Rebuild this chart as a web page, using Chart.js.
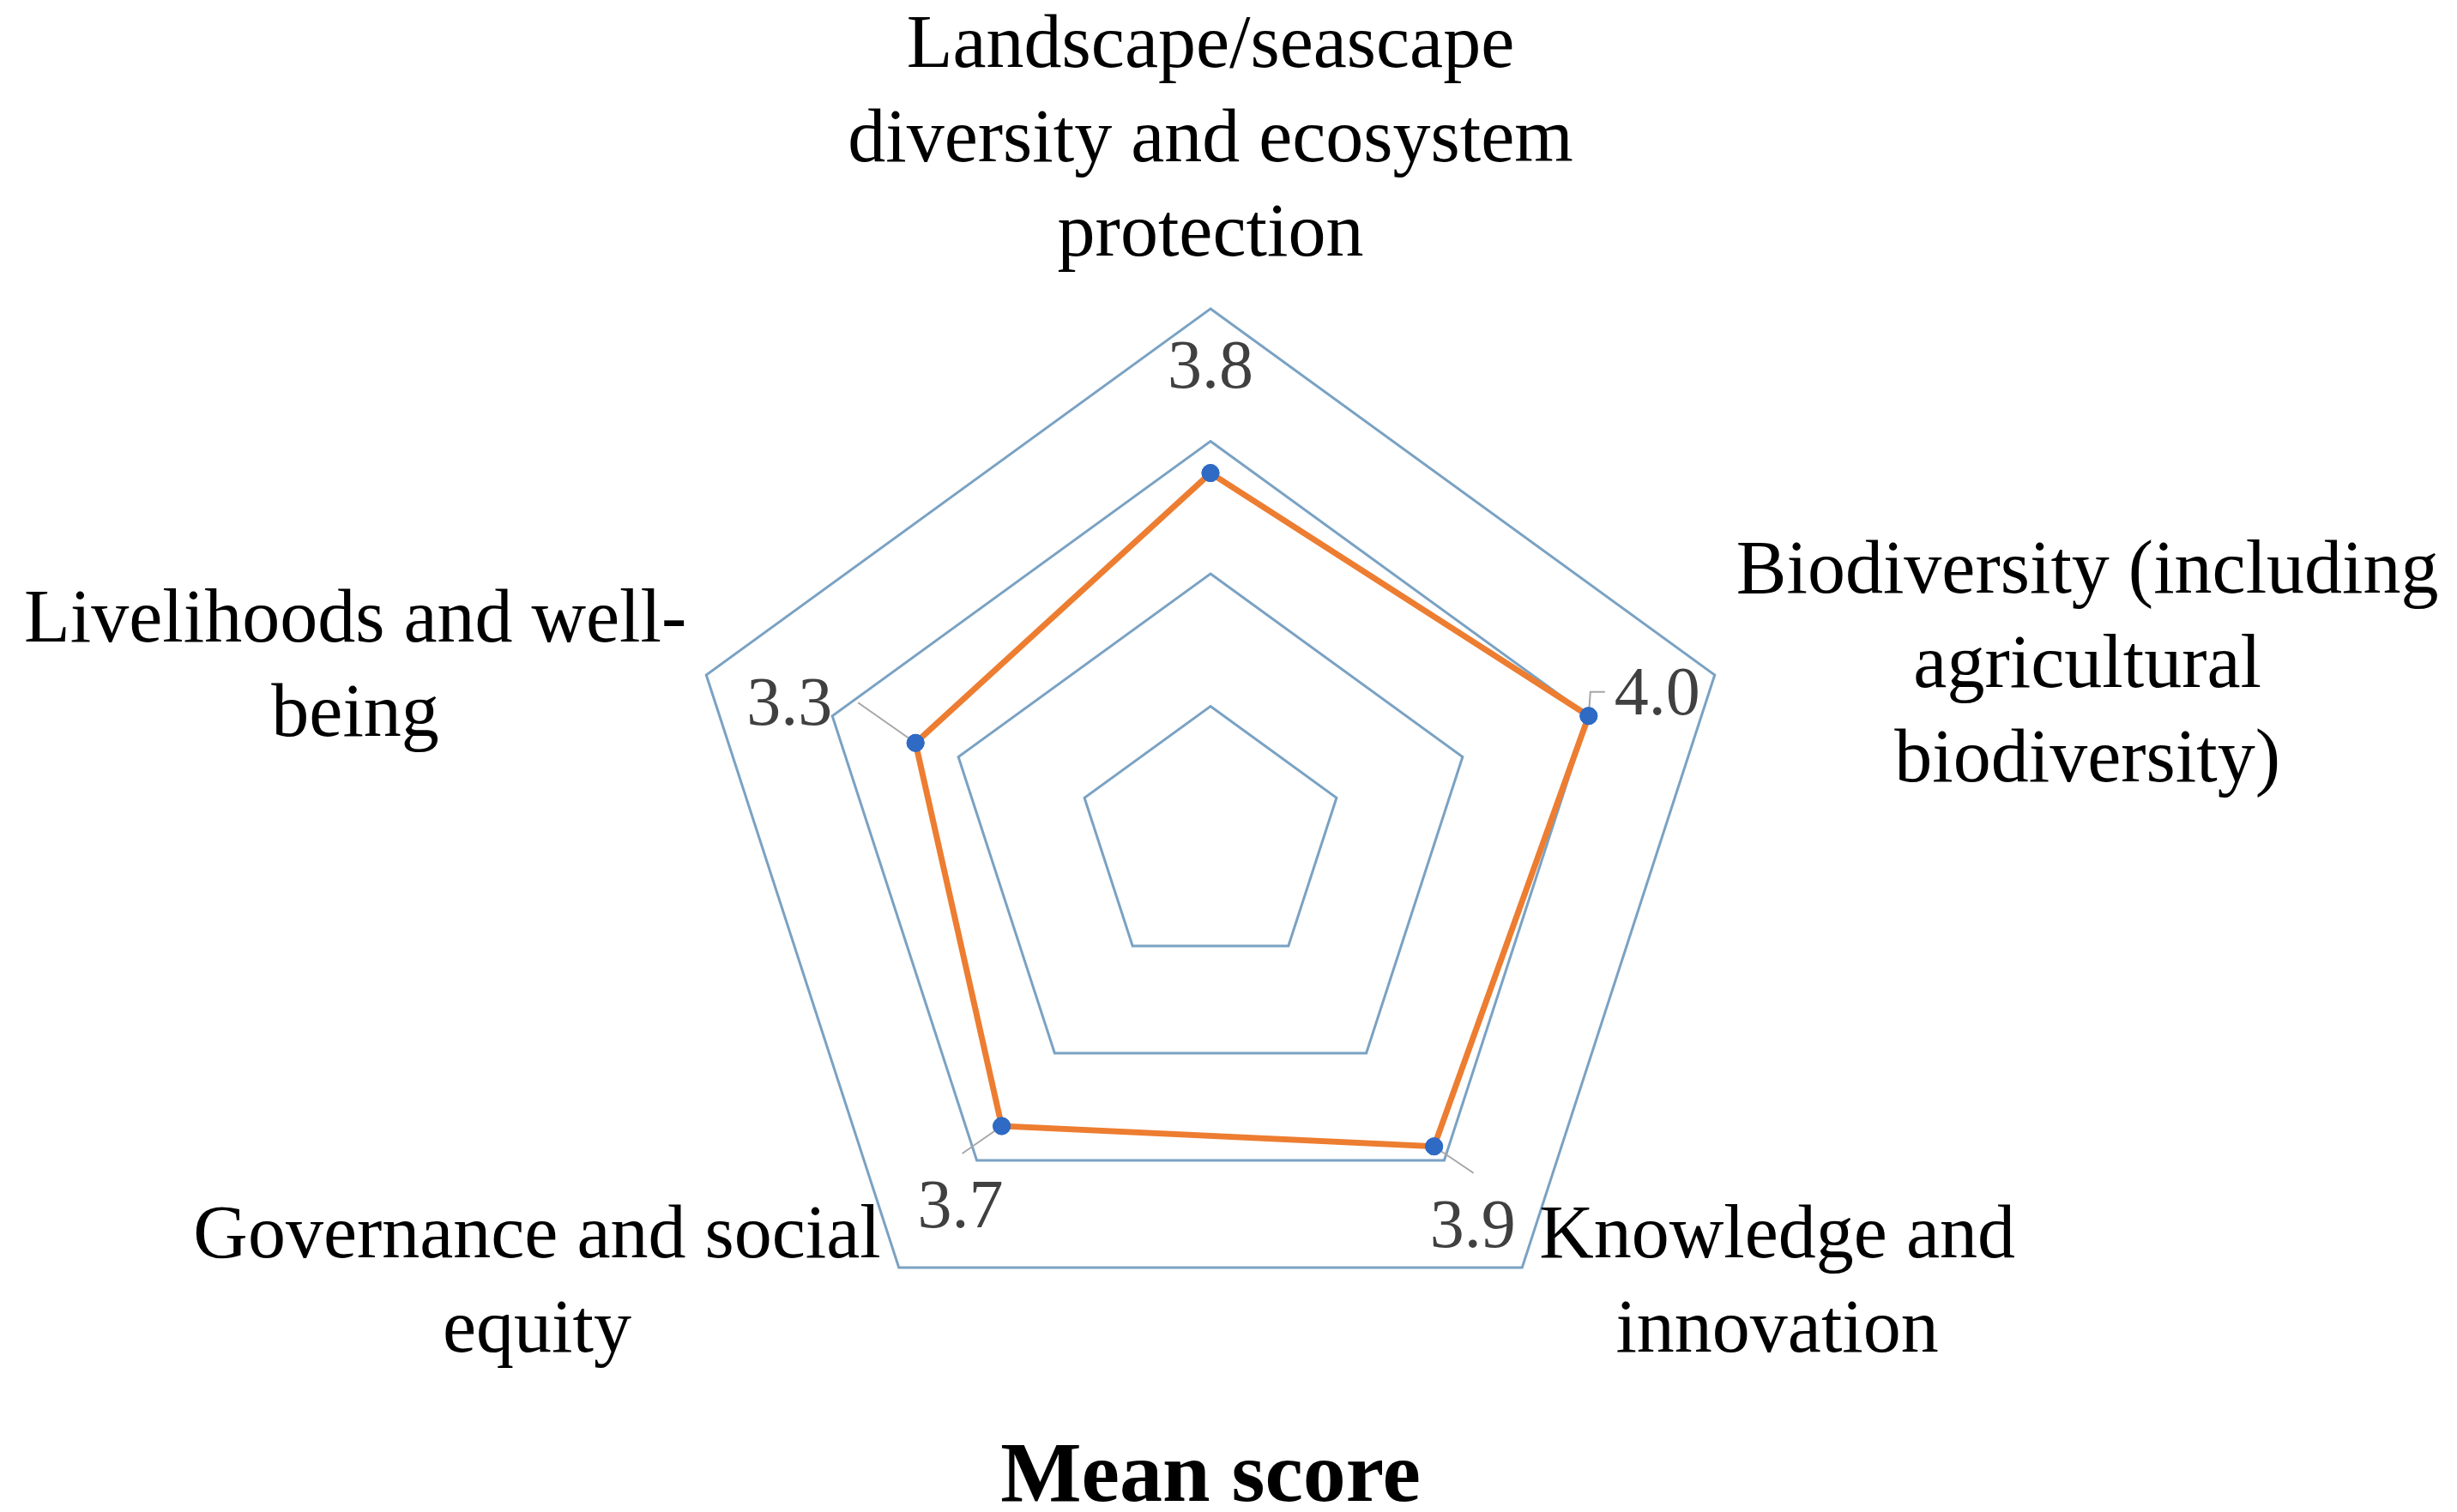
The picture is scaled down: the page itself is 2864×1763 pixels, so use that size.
<!DOCTYPE html>
<html><head><meta charset="utf-8">
<script src="https://cdn.jsdelivr.net/npm/chart.js@4.4.1/dist/chart.umd.min.js"></script>
<style>html,body{margin:0;padding:0;background:#fff;}#wrap{width:2864px;height:1763px;position:relative;}</style>
</head><body><div id="wrap"><canvas id="c" width="2864" height="1763"></canvas></div>
<script>
// ---- data ----
const categories = [
  ["Landscape/seascape", "diversity and ecosystem", "protection"],
  ["Biodiversity (including", "agricultural", "biodiversity)"],
  ["Knowledge and", "innovation"],
  ["Governance and social", "equity"],
  ["Livelihoods and well-", "being"]
];
const meanScores = [3.76, 4.0, 3.87, 3.68, 3.34];
const scaleMin = 1;
const scaleMax = 5;
const scaleStep = 1;
const chartTitle = "Mean score";

// ---- styles ----
const FONT = "'Liberation Serif', 'Times New Roman', serif";
const catLabelStyle = [
  {side: 'center', dx: 0, dy: -305},
  {side: 'left', dx: 25, dy: -119},
  {side: 'left', dx: 20, dy: -35},
  {side: 'right', dx: -21, dy: -35},
  {side: 'right', dx: -23, dy: -62}
];
const valueLabelStyle = [
  {dx: 0, dy: -121, leader: null},
  {dx: 80, dy: -23, leader: [[2, -28], [19, -28]]},
  {dx: 45, dy: 96, leader: [[46, 31]]},
  {dx: -48, dy: 97, leader: [[-46, 32]]},
  {dx: -147, dy: -42, leader: [[-67, -47]]}
];

const labelPlugin = {
  id: 'labelPlugin',
  afterDatasetsDraw(chart) {
    const ctx = chart.ctx;
    const scale = chart.scales.r;
    const meta = chart.getDatasetMeta(0);
    ctx.save();
    meta.data.forEach((pt, i) => {
      const st = valueLabelStyle[i];
      if (st.leader) {
        ctx.beginPath();
        ctx.strokeStyle = '#A6A6A6';
        ctx.lineWidth = 2;
        ctx.moveTo(pt.x, pt.y);
        st.leader.forEach(p => ctx.lineTo(pt.x + p[0], pt.y + p[1]));
        ctx.stroke();
      }
    });
    meta.data.forEach(pt => pt.draw(ctx, chart.chartArea));
    ctx.font = "80px " + FONT;
    ctx.fillStyle = '#404040';
    ctx.textAlign = 'center';
    ctx.textBaseline = 'middle';
    meta.data.forEach((pt, i) => {
      const st = valueLabelStyle[i];
      ctx.fillText(meanScores[i].toFixed(1), pt.x + st.dx, pt.y + st.dy);
    });
    ctx.font = "88px " + FONT;
    ctx.fillStyle = '#000000';
    const lineH = 110;
    categories.forEach((lines, i) => {
      const v = scale.getPointPosition(i, scale.drawingArea);
      const st = catLabelStyle[i];
      const w = Math.max(...lines.map(l => ctx.measureText(l).width));
      let cx = v.x + st.dx;
      if (st.side === 'left') cx += w / 2;
      if (st.side === 'right') cx -= w / 2;
      lines.forEach((l, k) => ctx.fillText(l, cx, v.y + st.dy + k * lineH));
    });
    ctx.font = "bold 100px " + FONT;
    ctx.textBaseline = 'alphabetic';
    ctx.fillText(chartTitle, scale.xCenter, 1750);
    ctx.restore();
  }
};

new Chart(document.getElementById('c'), {
  type: 'radar',
  data: {
    labels: categories,
    datasets: [{
      data: meanScores,
      borderColor: '#ED7D31',
      borderWidth: 7,
      backgroundColor: 'rgba(0,0,0,0)',
      fill: false,
      pointBackgroundColor: '#2F6BC4',
      pointBorderColor: '#2F6BC4',
      pointBorderWidth: 1,
      pointRadius: 10,
      tension: 0
    }]
  },
  options: {
    responsive: false,
    animation: false,
    devicePixelRatio: 1,
    layout: {padding: {top: 360, bottom: 167, left: 793, right: 835}},
    plugins: {legend: {display: false}, tooltip: {enabled: false}, title: {display: false}},
    scales: {
      r: {
        min: scaleMin, max: scaleMax,
        ticks: {stepSize: scaleStep, display: false},
        grid: {color: '#7AA2C3', lineWidth: 3},
        angleLines: {display: false},
        pointLabels: {display: false}
      }
    }
  },
  plugins: [labelPlugin]
});
</script></body></html>
